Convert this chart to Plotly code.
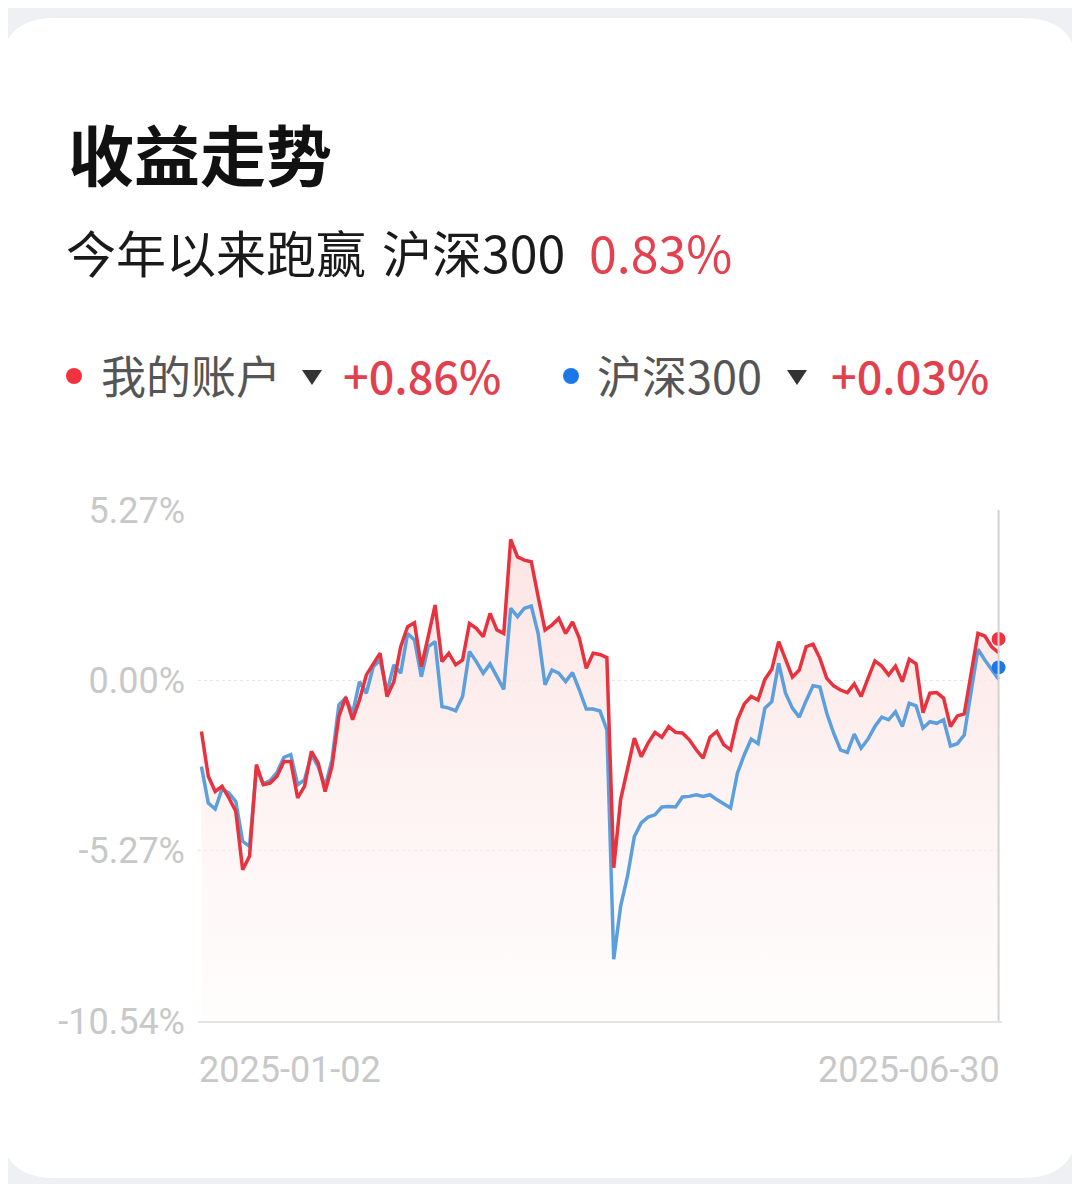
import pandas as pd
import plotly.graph_objects as go

# ---- data ----
holidays = ['2025-01-01', '2025-01-28', '2025-01-29', '2025-01-30', '2025-01-31',
            '2025-02-03', '2025-02-04', '2025-04-04', '2025-05-01', '2025-05-02',
            '2025-05-05', '2025-06-02']
days = pd.bdate_range('2025-01-02', '2025-06-30')
dates = [d.strftime('%Y-%m-%d') for d in days if d.strftime('%Y-%m-%d') not in holidays]

account = [-1.58, -2.97, -3.44, -3.28, -3.64, -4.05, -5.86, -5.44, -2.61, -3.23,
           -3.18, -2.97, -2.51, -2.51, -3.64, -3.28, -2.20, -2.56, -3.44, -2.66,
           -1.12, -0.52, -1.22, -0.61, 0.17, 0.53, 0.84, -0.50, -0.04, 1.04,
           1.66, 1.78, 0.42, 1.35, 2.33, 0.58, 0.84, 0.48, 0.63, 1.76,
           1.61, 1.35, 2.07, 1.56, 1.45, 4.36, 3.82, 3.72, 3.67, 2.59,
           1.56, 1.71, 1.92, 1.45, 1.81, 1.30, 0.37, 0.84, 0.80, 0.70,
           -5.80, -3.69, -2.77, -1.79, -2.36, -1.94, -1.61, -1.76, -1.43, -1.61,
           -1.63, -1.84, -2.15, -2.41, -1.76, -1.58, -1.99, -2.15, -1.22, -0.73,
           -0.50, -0.61, 0.03, 0.34, 1.20, 0.68, 0.10, 0.32, 1.04, 1.12,
           0.68, 0.06, -0.17, -0.30, -0.38, -0.11, -0.50, 0.06, 0.60, 0.44,
           0.17, 0.44, -0.04, 0.65, 0.51, -1.00, -0.40, -0.38, -0.55, -1.43,
           -1.10, -1.04, 0.20, 1.45, 1.37, 1.04, 0.86]

hs300 = [-2.67, -3.80, -3.98, -3.36, -3.49, -3.75, -4.98, -5.14, -2.75, -3.20,
         -3.10, -2.85, -2.38, -2.30, -3.23, -3.08, -2.30, -2.67, -3.28, -2.46,
         -0.76, -0.55, -1.02, -0.04, -0.40, 0.42, 0.63, -0.35, 0.48, 0.22,
         1.45, 1.25, 0.11, 1.04, 1.20, -0.81, -0.86, -0.94, -0.50, 0.89,
         0.58, 0.22, 0.51, 0.11, -0.28, 2.23, 1.97, 2.23, 2.30, 1.45,
         -0.14, 0.32, 0.22, -0.04, 0.24, -0.30, -0.89, -0.89, -0.95, -1.53,
         -8.63, -6.99, -6.06, -4.83, -4.41, -4.23, -4.16, -3.92, -3.90, -3.92,
         -3.61, -3.59, -3.54, -3.59, -3.54, -3.69, -3.83, -3.95, -2.87, -2.30,
         -1.82, -1.96, -0.86, -0.66, 0.53, -0.40, -0.86, -1.14, -0.63, -0.17,
         -0.21, -1.02, -1.63, -2.15, -2.23, -1.66, -2.10, -1.82, -1.43, -1.14,
         -1.22, -0.97, -1.43, -0.71, -0.79, -1.48, -1.28, -1.33, -1.22, -2.03,
         -1.96, -1.69, -0.36, 0.96, 0.63, 0.32, 0.03]

end_dots = [1.28, 0.40]          # where the two live dots sit
tick_vals = [5.27, 0.00, -5.27, -10.54]
tick_text = ['5.27%', '0.00%', '-5.27%', '-10.54%']

RED = '#e8323d'
BLUE = '#5c9fdd'
GREY_TXT = '#c8c8c8'

# ---- page geometry ----
# the page body adds an 8px margin, so page pixels are shifted by OFF
OFF = 8
W, H = 1080, 1184
ML = 198 - OFF
MT = 510 - OFF
MR = W - (1002 - OFF)
MB = H - (1021 - OFF)
PW, PH = W - ML - MR, H - MT - MB


def px(x):
    return (x - OFF - ML) / PW


def py(y):
    return (H - MB - (y - OFF)) / PH


fig = go.Figure()

# invisible baseline at the bottom of the axis so the fill reaches the floor
fig.add_trace(go.Scatter(x=dates, y=[tick_vals[-1]] * len(dates), mode='lines',
                         line=dict(width=0), hoverinfo='skip', showlegend=False))
fig.add_trace(go.Scatter(x=dates, y=account, mode='lines', line=dict(width=0),
                         fill='tonexty',
                         fillgradient=dict(type='vertical', start=tick_vals[-1], stop=max(account),
                                           colorscale=[[0, 'rgba(254,246,246,0.3)'],
                                                       [0.6, 'rgba(253,234,234,0.75)'],
                                                       [1, 'rgba(252,226,226,0.95)']]),
                         hoverinfo='skip', showlegend=False))
fig.add_trace(go.Scatter(x=dates, y=hs300, mode='lines', name='沪深300',
                         line=dict(color=BLUE, width=3.5), showlegend=False))
fig.add_trace(go.Scatter(x=dates, y=account, mode='lines', name='我的账户',
                         line=dict(color=RED, width=3.5), showlegend=False))
fig.add_trace(go.Scatter(x=[dates[-1], dates[-1]], y=end_dots, mode='markers',
                         marker=dict(color=['#f0333f', '#1e77e6'], size=14),
                         showlegend=False, cliponaxis=False))

# card background
x0, x1, y0, y1, r = 0, 1078, 18, 1178, 55
card = (f"M {px(x0 + r)},{py(y0)} L {px(x1 - r)},{py(y0)} Q {px(x1)},{py(y0)} {px(x1)},{py(y0 + r)} "
        f"L {px(x1)},{py(y1 - r)} Q {px(x1)},{py(y1)} {px(x1 - r)},{py(y1)} "
        f"L {px(x0 + r)},{py(y1)} Q {px(x0)},{py(y1)} {px(x0)},{py(y1 - r)} "
        f"L {px(x0)},{py(y0 + r)} Q {px(x0)},{py(y0)} {px(x0 + r)},{py(y0)} Z")
shapes = [dict(type='path', path=card, xref='paper', yref='paper', layer='below',
               fillcolor='white', line=dict(width=0))]

# right-hand guide line
shapes.append(dict(type='line', xref='x', yref='paper', x0=dates[-1], x1=dates[-1], y0=0, y1=1,
                   line=dict(color='#d2d2d2', width=2)))

# legend dots and dropdown arrows
for cx, col in [(74, '#f0333f'), (571, '#1e77e6')]:
    shapes.append(dict(type='circle', xref='paper', yref='paper',
                       x0=px(cx - 8), x1=px(cx + 8), y0=py(376 + 8), y1=py(376 - 8),
                       fillcolor=col, line=dict(width=0)))
for tx in [302, 787]:
    shapes.append(dict(type='path', xref='paper', yref='paper',
                       path=f"M {px(tx)},{py(370)} L {px(tx + 20)},{py(370)} L {px(tx + 10)},{py(385)} Z",
                       fillcolor='#333333', line=dict(width=0)))

cjk = 'Noto Sans CJK SC'


def label(text, x, y, size, color, anchor='left', weight=400, family=cjk):
    return dict(text=text, x=px(x), y=py(y), xref='paper', yref='paper',
                xanchor=anchor, yanchor='middle', showarrow=False,
                font=dict(family=family, size=size, color=color, weight=weight))


annotations = [
    label('收益走势', 66, 152, 66, '#111111', weight=700),
    label('今年以来跑赢', 64, 251, 50, '#1a1a1a'),
    label('沪深300', 380, 251, 50, '#1a1a1a'),
    label('0.83%', 587, 251, 50, '#e4404e'),
    label('我的账户', 99, 374, 45, '#555555'),
    label('+0.86%', 341, 374, 45, '#e3404e', weight=500),
    label('沪深300', 595, 374, 45, '#555555'),
    label('+0.03%', 829, 374, 45, '#e3404e', weight=500),
    label(dates[0], 197, 1070, 36, GREY_TXT, family='Roboto'),
    label(dates[-1], 1002, 1070, 36, GREY_TXT, anchor='right', family='Roboto'),
]

fig.update_layout(
    width=W, height=H,
    margin=dict(l=ML, r=MR, t=MT, b=MB),
    paper_bgcolor='#eef0f4',
    plot_bgcolor='rgba(0,0,0,0)',
    font=dict(family=cjk),
    showlegend=False,
    shapes=shapes,
    annotations=annotations,
    xaxis=dict(type='category', showticklabels=False, showgrid=False, zeroline=False,
               showline=True, linecolor='#e4e4e4', linewidth=2, ticks='',
               range=[-0.5, len(dates) - 0.5], fixedrange=True),
    yaxis=dict(range=[tick_vals[-1], tick_vals[0]], tickvals=tick_vals, ticktext=tick_text,
               showgrid=True, gridcolor='#e6e6e6', griddash='dot', gridwidth=1,
               zeroline=False, showline=False, ticks='', ticklabelstandoff=12,
               tickfont=dict(family='Roboto', size=36, color=GREY_TXT),
               automargin=False, fixedrange=True),
)

fig.write_html('out.html')
